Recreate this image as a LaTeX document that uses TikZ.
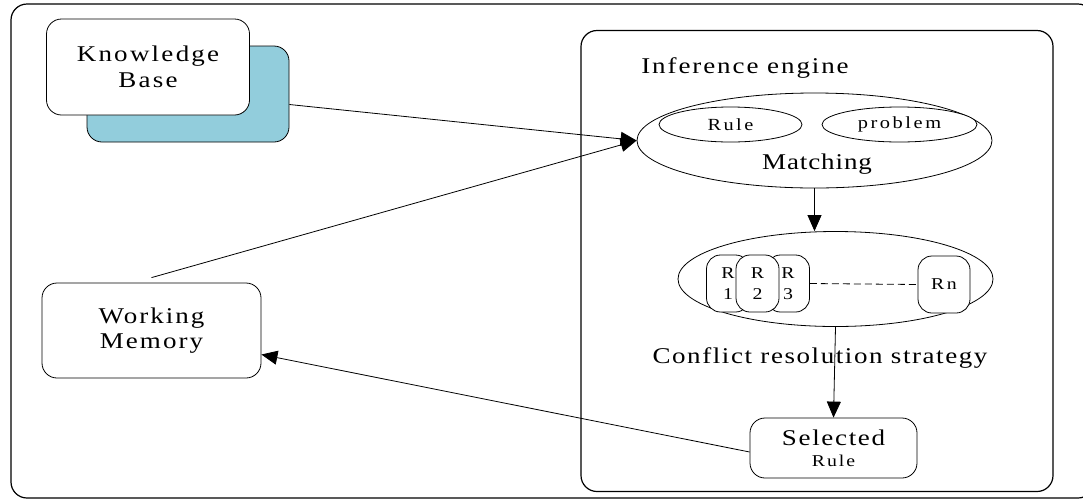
\documentclass[tikz,border=0pt]{standalone}
\usepackage{fontspec}
\setmainfont{Liberation Serif}[FakeStretch=1.2]
\usetikzlibrary{arrows.meta,shapes.geometric,calc}
\definecolor{kbcyan}{RGB}{146,205,220}

\begin{document}
\begin{tikzpicture}[x=1pt,y=-1pt,
  line width=0.8pt,
  % #1 = size, #2 = baseline skip, #3 = letter spacing
  txt/.style n args={3}{font=\fontsize{#1}{#2}\selectfont\addfontfeatures{LetterSpace=#3}},
  box/.style={draw, rounded corners=15pt, fill=white, align=center, inner sep=0pt},
  oval/.style={draw, ellipse, inner sep=0pt, fill=white},
  rbox/.style={draw, rounded corners=14pt, fill=white, minimum width=43pt,
    minimum height=57pt, align=center, inner sep=0pt, txt={16.5}{21}{0}},
  arr/.style={-{Triangle[length=16pt,width=14pt]}},
  frame/.style={draw, line width=1.2pt, rounded corners=16pt},
]
\useasboundingbox (0,0) rectangle (1083,499);
\clip (0,0) rectangle (1083,499);

% outer frame and the inference engine container
\draw[frame] (11,4) rectangle (1094,498);
\node[frame, minimum width=472pt, minimum height=461pt, inner sep=0pt] (engine) at (817,261) {};
\node[txt={22.5}{26}{8.5}, anchor=base] (enginelabel) at (745,73) {Inference engine};

% knowledge base with its coloured backing card
\node[draw, rounded corners=15pt, fill=kbcyan, minimum width=202pt, minimum height=96pt] (kbshadow) at (188,94) {};
\node[box, minimum width=203pt, minimum height=96pt, txt={22.5}{26}{10}] (kb) at (148,67) {Knowledge\\Base};

% working memory
\node[box, minimum width=219pt, minimum height=95pt, txt={22.5}{25}{9}] (wm) at (151.5,330.5) {Working\\Memory};

% matching stage
\node[oval, minimum width=355pt, minimum height=95pt] (match) at (814.5,140.5) {};
\node[oval, minimum width=143pt, minimum height=35pt, txt={17}{18}{14}] (rule) at (730.5,124.5) {Rule};
\node[oval, minimum width=155pt, minimum height=35pt, txt={17}{18}{15}] (problem) at (899.5,124.5) {problem};
\node[txt={22.5}{26}{4}, anchor=base] (matchlabel) at (817,169) {Matching};

% conflict set
\node[oval, minimum width=315pt, minimum height=95pt] (conf) at (835.5,279) {};
\node[rbox] (r1) at (728,283.5) {R\\1};
\node[rbox] (r3) at (788,283.5) {R\\3};
\node[rbox] (r2) at (757.5,283.5) {R\\2};
\node[rbox, minimum width=52pt, txt={16.5}{21}{15}] (rn) at (944,284.5) {Rn};
\draw[dash pattern=on 7pt off 4pt] (r3.east) -- (rn.west);
\node[txt={22.5}{26}{7}, anchor=base] (conflabel) at (820,363) {Conflict resolution strategy};

% selected rule
\node[box, minimum width=167pt, minimum height=60pt, txt={22.5}{21}{7.5}] (sel) at (833.5,448)
  {Selected\\{\fontsize{16.5}{21}\selectfont\addfontfeatures{LetterSpace=12}Rule}};

% connectors
\draw[arr] (kbshadow) -- (match.west);
\draw[arr] ([yshift=5pt]wm.north) -- (match.west);
\draw[arr] (match.south) -- (match.south |- conf.north);
\draw[arr] (conf.south) -- (sel.north);
\draw[arr] ([yshift=-4pt]sel.west) -- ([yshift=-24pt]wm.east);
\end{tikzpicture}
\end{document}
